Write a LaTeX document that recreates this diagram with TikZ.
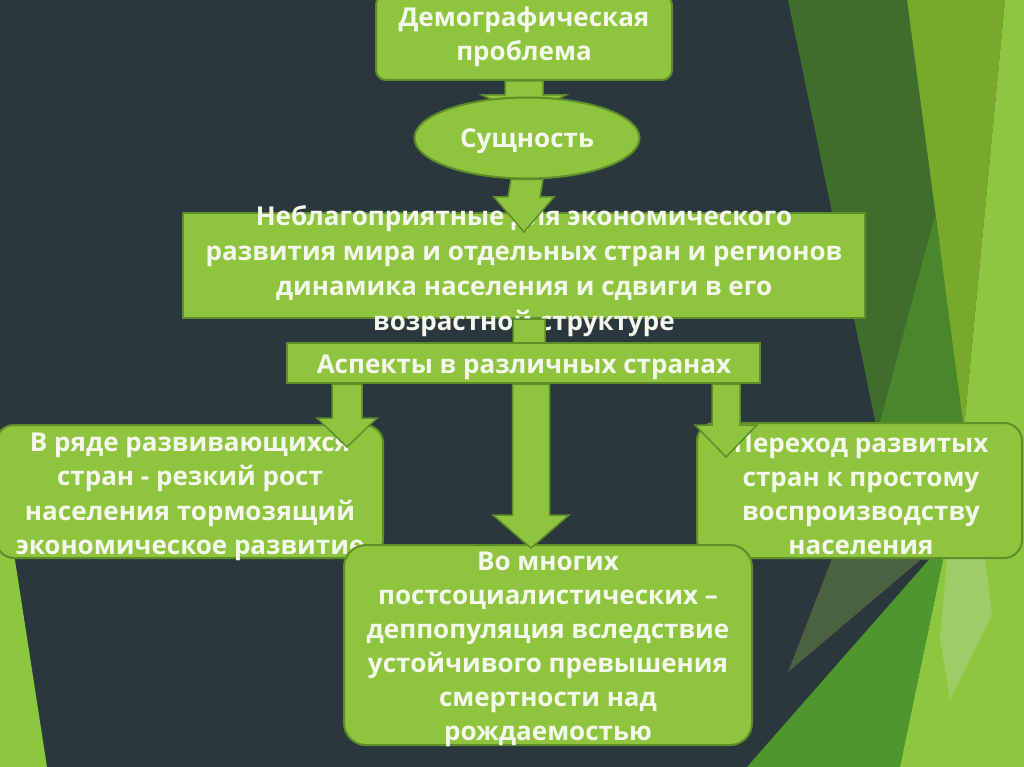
\documentclass[tikz,border=0pt]{standalone}
\usepackage{fontspec}
\setmainfont{Open Sans}
\usetikzlibrary{calc,shapes.geometric}
\definecolor{bg}{HTML}{2A383E}
\definecolor{boxfill}{HTML}{8EC43E}
\definecolor{boxline}{HTML}{5E8E2A}
\definecolor{txtc}{HTML}{F4F8EC}
\definecolor{dkg}{HTML}{3F6D2B}
\definecolor{facg}{HTML}{4A862B}
\definecolor{oliveg}{HTML}{4B6240}
\definecolor{medg}{HTML}{4E962D}
\definecolor{ltg}{HTML}{79A92A}
\definecolor{brg}{HTML}{8DC63F}
\definecolor{paleg}{HTML}{A0CC68}
\tikzset{
  box/.style={draw=boxline, line width=2pt, fill=boxfill, inner sep=0pt},
  txt/.style={text=txtc, font=\bfseries\fontsize{26}{34}\selectfont, align=center, inner sep=0pt},
  arr/.style={draw=boxline, line width=1.5pt, fill=boxfill, line join=miter},
}
\newcommand\blockarr[5]{\draw[arr] ($(#1)+(-#3,0)$) -- ($(#2)+(-#3,-#5)$) -- ($(#2)+(-#4,-#5)$) -- (#2) -- ($(#2)+(#4,-#5)$) -- ($(#2)+(#3,-#5)$) -- ($(#1)+(#3,0)$) -- cycle;}
\begin{document}
\begin{tikzpicture}[x=1pt,y=-1pt]
\clip (0,0) rectangle (1024,767);
\fill[bg] (0,0) rectangle (1024,767);
% decorative facets
\fill[dkg] (788,0) -- (907,0) -- (964,429) -- (943,560) -- (833,560) -- (875,420) -- cycle;
\fill[facg] (935,215) -- (966,430) -- (878,430) -- cycle;
\fill[oliveg] (833,556) -- (925,556) -- (788,672) -- cycle;
\fill[medg] (747,767) -- (955,530) -- (943,560) -- (900,767) -- cycle;
\fill[ltg] (907,0) -- (1005,0) -- (964,429) -- cycle;
\fill[brg] (1005,0) -- (1024,0) -- (1024,767) -- (900,767) -- (943,560) -- (964,429) -- cycle;
\fill[paleg] (947,558) -- (985,558) -- (992,615) -- (950,700) -- (940,640) -- cycle;
\fill[brg] (0,463) -- (47,767) -- (0,767) -- cycle;

% top box
\node[box, rounded corners=10pt, minimum width=296pt, minimum height=85pt] (box1) at (524,37.5) {};
\node[txt] (box1t) at (524,37) {Демографическая\\проблема};
\coordinate (t1) at (524,115);
\blockarr{box1.south}{t1}{19}{42}{20}
\node[box, ellipse, minimum width=225pt, minimum height=81pt] (ess) at (527,138) {};
\node[txt] (esst) at (527,141) {Сущность};

% big box
\node[box, minimum width=682pt, minimum height=105pt] (big) at (524,265.5) {};
\node[txt, font=\bfseries\fontsize{26}{35}\selectfont] (bigt) at (524,271) {Неблагоприятные для экономического\\развития мира и отдельных стран и регионов\\динамика населения и сдвиги в его\\возрастной структуре};
\coordinate (t2) at (524,232);
\blockarr{ess.south}{t2}{16}{30}{35}

% connector to aspects
\coordinate (t3) at (529,372);
\coordinate (s3) at (big.south -| t3);
\blockarr{s3}{t3}{16}{30}{20}
\node[box, minimum width=473pt, minimum height=40pt] (asp) at (523.5,363) {};
\node[txt] (aspt) at (524,367) {Аспекты в различных странах};

% three lower boxes
\node[box, rounded corners=18pt, minimum width=387pt, minimum height=133pt] (left) at (189.5,491.5) {};
\node[txt, font=\bfseries\fontsize{26}{34.5}\selectfont] (leftt) at (190,497) {В ряде развивающихся\\стран - резкий рост\\населения тормозящий\\экономическое развитие};
\node[box, rounded corners=18pt, minimum width=325pt, minimum height=135pt] (right) at (859.5,490.5) {};
\node[txt] (rightt) at (861,494) {Переход развитых\\стран к простому\\воспроизводству\\населения};
\node[box, rounded corners=22pt, minimum width=408pt, minimum height=200pt] (bot) at (548,645) {};
\node[txt] (bott) at (548,649) {Во многих\\постсоциалистических –\\деппопуляция вследствие\\устойчивого превышения\\смертности над\\рождаемостью};

% arrows from aspects
\coordinate (tl) at (347,447);
\coordinate (sl) at (asp.south -| tl);
\blockarr{sl}{tl}{15}{30}{29}
\coordinate (tm) at (531,548);
\coordinate (sm) at (asp.south -| tm);
\blockarr{sm}{tm}{18.5}{38}{33}
\coordinate (tr) at (726,457);
\coordinate (sr) at (asp.south -| tr);
\blockarr{sr}{tr}{14}{31}{32}
\end{tikzpicture}
\end{document}
